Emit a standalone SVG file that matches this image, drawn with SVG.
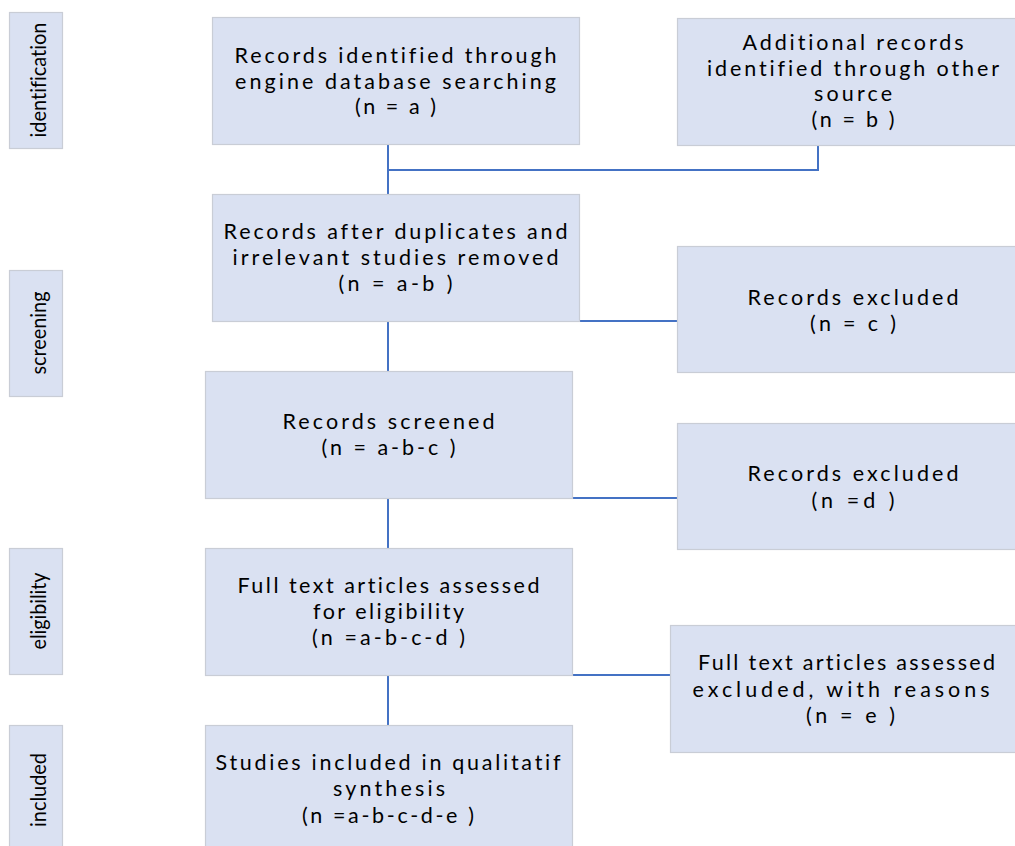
<svg xmlns="http://www.w3.org/2000/svg" width="1015" height="846" viewBox="0 0 1015 846">
<style>
.box{fill:#DAE1F2;stroke:#C9CDD6;stroke-width:1.2}
.side{fill:#DAE1F2;stroke:#C9CDD6;stroke-width:1.2}
.t,.n,.s{font-family:Lato,"Open Sans","Liberation Sans",sans-serif;fill:#000;text-anchor:middle;font-variant-ligatures:none}
.t,.n{font-size:21.5px}
.s{font-size:22px}
.c{fill:none;stroke:#4472C4;stroke-width:2}
</style>
<rect width="1015" height="846" fill="#fff"/>
<g id="connectors">
<path class="c" d="M388 144 V194"/>
<path class="c" d="M388 170 H818 V145"/>
<path class="c" d="M388 321 V371"/>
<path class="c" d="M388 321 H677"/>
<path class="c" d="M388 498 V548"/>
<path class="c" d="M388 498 H677"/>
<path class="c" d="M388 675 V725"/>
<path class="c" d="M388 675 H670"/>
</g>
<g id="lbl-identification">
<rect class="side" x="9.5" y="12.5" width="53" height="136"/>
<text class="s" transform="translate(46 80) rotate(-90)" textLength="115" lengthAdjust="spacingAndGlyphs">identification</text>
</g>
<g id="lbl-screening">
<rect class="side" x="9.5" y="270.5" width="53" height="126"/>
<text class="s" transform="translate(46 333) rotate(-90)" textLength="83" lengthAdjust="spacingAndGlyphs">screening</text>
</g>
<g id="lbl-eligibility">
<rect class="side" x="9.5" y="548.5" width="53" height="126"/>
<text class="s" transform="translate(46 611) rotate(-90)" textLength="77" lengthAdjust="spacingAndGlyphs">eligibility</text>
</g>
<g id="lbl-included">
<rect class="side" x="9.5" y="725.5" width="53" height="130"/>
<text class="s" transform="translate(46 790) rotate(-90)" textLength="74" lengthAdjust="spacingAndGlyphs">included</text>
</g>
<g id="n-identified">
<rect class="box" x="212.5" y="17.5" width="367" height="127"/>
<text class="t" x="395.5" y="63" textLength="322" lengthAdjust="spacing">Records identified through</text>
<text class="t" x="395.5" y="89" textLength="321" lengthAdjust="spacing">engine database searching</text>
<text class="t" x="395.5" y="114" textLength="81" lengthAdjust="spacing">(n = a )</text>
</g>
<g id="n-additional">
<rect class="box" x="677.5" y="18.5" width="350" height="127"/>
<text class="t" x="853" y="50" textLength="221" lengthAdjust="spacing">Additional records</text>
<text class="t" x="853" y="76" textLength="292" lengthAdjust="spacing">identified through other</text>
<text class="t" x="853" y="101" textLength="78" lengthAdjust="spacing">source</text>
<text class="t" x="853" y="127" textLength="83" lengthAdjust="spacing">(n = b )</text>
</g>
<g id="n-duplicates">
<rect class="box" x="212.5" y="194.5" width="367" height="127"/>
<text class="t" x="395.5" y="239" textLength="344" lengthAdjust="spacing">Records after duplicates and</text>
<text class="t" x="395.5" y="265" textLength="326" lengthAdjust="spacing">irrelevant studies removed</text>
<text class="t" x="395.5" y="291" textLength="114" lengthAdjust="spacing">(n = a-b  )</text>
</g>
<g id="n-excluded-c">
<rect class="box" x="677.5" y="246.5" width="350" height="126"/>
<text class="t" x="853" y="305" textLength="211" lengthAdjust="spacing">Records excluded</text>
<text class="t" x="853" y="331" textLength="86" lengthAdjust="spacing">(n = c  )</text>
</g>
<g id="n-screened">
<rect class="box" x="205.5" y="371.5" width="367" height="127"/>
<text class="t" x="388.5" y="429" textLength="212" lengthAdjust="spacing">Records screened</text>
<text class="t" x="388.5" y="455" textLength="134" lengthAdjust="spacing">(n = a-b-c  )</text>
</g>
<g id="n-excluded-d">
<rect class="box" x="677.5" y="423.5" width="350" height="126"/>
<text class="t" x="853" y="481" textLength="211" lengthAdjust="spacing">Records excluded</text>
<text class="t" x="853" y="508" textLength="83" lengthAdjust="spacing">(n =d  )</text>
</g>
<g id="n-fulltext">
<rect class="box" x="205.5" y="548.5" width="367" height="127"/>
<text class="t" x="388.5" y="593" textLength="302" lengthAdjust="spacing">Full text articles assessed</text>
<text class="t" x="388.5" y="619" textLength="151" lengthAdjust="spacing">for eligibility</text>
<text class="t" x="388.5" y="645" textLength="153" lengthAdjust="spacing">(n =a-b-c-d  )</text>
</g>
<g id="n-excluded-e">
<rect class="box" x="670.5" y="625.5" width="357" height="127"/>
<text class="n" x="846.5" y="670" textLength="297" lengthAdjust="spacing">Full text articles assessed</text>
<text class="n" x="841" y="697" textLength="297" lengthAdjust="spacing">excluded, with reasons</text>
<text class="n" x="850.5" y="723" textLength="89" lengthAdjust="spacing">(n = e  )</text>
</g>
<g id="n-included">
<rect class="box" x="205.5" y="725.5" width="367" height="130"/>
<text class="n" x="388" y="770" textLength="345" lengthAdjust="spacing">Studies included in qualitatif</text>
<text class="n" x="389" y="796" textLength="112" lengthAdjust="spacing">synthesis</text>
<text class="n" x="388" y="823" textLength="172" lengthAdjust="spacing">(n =a-b-c-d-e )</text>
</g>
</svg>
